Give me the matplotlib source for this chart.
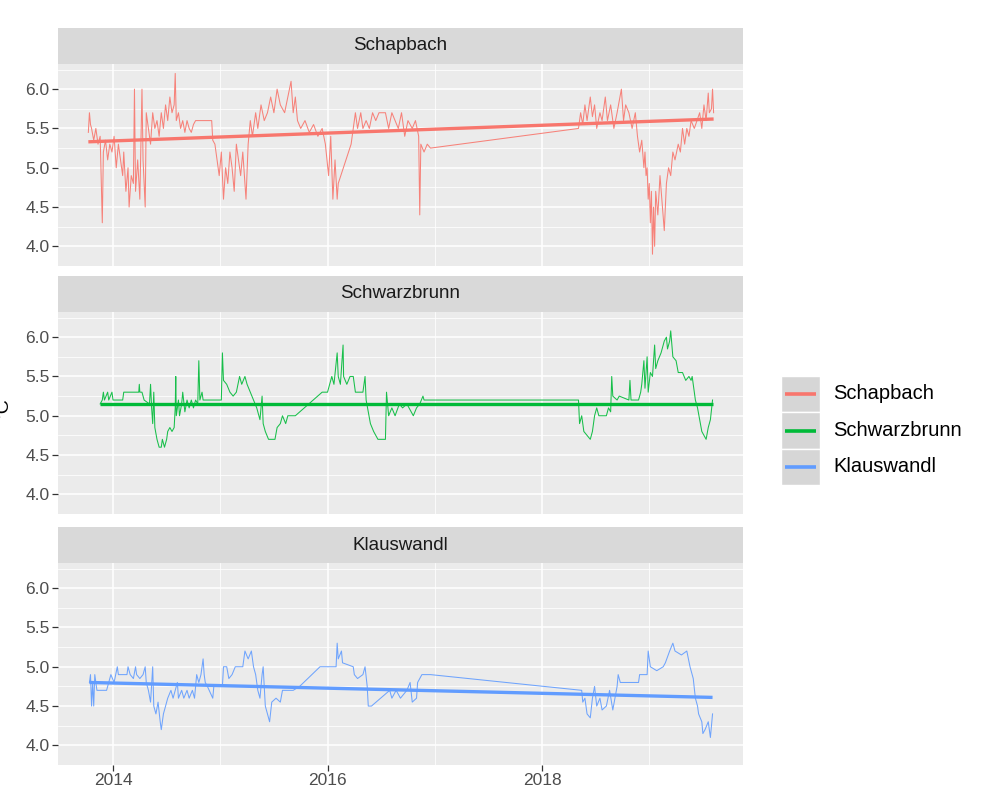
import numpy as np
import matplotlib.pyplot as plt
from matplotlib.patches import Rectangle
plt.ioff()

plt.rcParams['font.family'] = ['Liberation Sans', 'DejaVu Sans']

sites = ['Schapbach', 'Schwarzbrunn', 'Klauswandl']
colours = ['#F8766D', '#00BA38', '#619CFF']

# Schapbach water temperature (decimal year, deg C)
schap_year = [2013.77, 2013.78, 2013.79, 2013.80, 2013.82, 2013.84, 2013.86, 2013.88, 2013.90, 2013.91,
              2013.93, 2013.95, 2013.97, 2013.99, 2014.01, 2014.03, 2014.05, 2014.07, 2014.09, 2014.10,
              2014.12, 2014.14, 2014.15, 2014.17, 2014.19, 2014.20, 2014.21, 2014.23, 2014.25, 2014.26,
              2014.27, 2014.28, 2014.30, 2014.31, 2014.33, 2014.35, 2014.37, 2014.39, 2014.41, 2014.43,
              2014.45, 2014.47, 2014.49, 2014.51, 2014.53, 2014.55, 2014.57, 2014.58, 2014.59, 2014.61,
              2014.63, 2014.65, 2014.67, 2014.69, 2014.71, 2014.73, 2014.75, 2014.77, 2014.92, 2014.93,
              2014.95, 2014.97, 2014.99, 2015.01, 2015.03, 2015.05, 2015.07, 2015.09, 2015.11, 2015.13,
              2015.15, 2015.17, 2015.19, 2015.21, 2015.24, 2015.26, 2015.28, 2015.30, 2015.33, 2015.35,
              2015.38, 2015.41, 2015.44, 2015.47, 2015.50, 2015.53, 2015.56, 2015.60, 2015.63, 2015.66,
              2015.68, 2015.70, 2015.72, 2015.75, 2015.79, 2015.83, 2015.87, 2015.91, 2015.95, 2015.98,
              2016.01, 2016.03, 2016.05, 2016.07, 2016.09, 2016.10, 2016.22, 2016.24, 2016.26, 2016.28,
              2016.31, 2016.33, 2016.36, 2016.39, 2016.42, 2016.45, 2016.48, 2016.54, 2016.57, 2016.60,
              2016.63, 2016.66, 2016.69, 2016.72, 2016.75, 2016.79, 2016.82, 2016.85, 2016.86, 2016.87,
              2016.90, 2016.93, 2016.96, 2018.34, 2018.36, 2018.38, 2018.40, 2018.42, 2018.45, 2018.47,
              2018.49, 2018.51, 2018.54, 2018.56, 2018.59, 2018.61, 2018.64, 2018.67, 2018.70, 2018.74,
              2018.76, 2018.78, 2018.81, 2018.84, 2018.87, 2018.89, 2018.91, 2018.93, 2018.95, 2018.96,
              2018.97, 2018.98, 2018.99, 2019.00, 2019.01, 2019.02, 2019.03, 2019.04, 2019.05, 2019.06,
              2019.08, 2019.10, 2019.14, 2019.16, 2019.18, 2019.20, 2019.22, 2019.24, 2019.27, 2019.29,
              2019.31, 2019.33, 2019.35, 2019.37, 2019.39, 2019.42, 2019.47, 2019.49, 2019.51, 2019.53,
              2019.55, 2019.56, 2019.58, 2019.59, 2019.60]
schap_temp = [5.45, 5.70, 5.55, 5.50, 5.35, 5.50, 5.30, 5.40, 4.30, 5.20,
              5.35, 5.10, 5.30, 5.20, 5.40, 5.00, 5.30, 5.10, 4.90, 5.20,
              4.70, 5.00, 4.50, 4.90, 4.80, 6.00, 4.70, 5.10, 4.60, 5.30,
              6.00, 5.10, 4.50, 5.70, 5.50, 5.30, 5.70, 5.50, 5.60, 5.40,
              5.70, 5.50, 5.80, 5.60, 5.90, 5.70, 5.80, 6.20, 5.60, 5.70,
              5.50, 5.60, 5.45, 5.60, 5.50, 5.45, 5.55, 5.60, 5.60, 5.35,
              5.30, 5.10, 4.90, 5.20, 4.60, 5.00, 4.80, 5.20, 5.00, 4.70,
              5.30, 5.10, 4.90, 5.20, 4.60, 5.30, 5.60, 5.40, 5.70, 5.50,
              5.80, 5.60, 5.70, 5.90, 5.70, 6.00, 5.80, 5.70, 5.90, 6.10,
              5.70, 5.90, 5.60, 5.50, 5.60, 5.45, 5.55, 5.40, 5.50, 5.30,
              4.90, 5.40, 4.60, 5.10, 4.60, 4.80, 5.30, 5.50, 5.70, 5.50,
              5.70, 5.50, 5.60, 5.50, 5.70, 5.60, 5.70, 5.70, 5.50, 5.70,
              5.60, 5.50, 5.70, 5.40, 5.60, 5.50, 5.60, 5.40, 4.40, 5.30,
              5.20, 5.30, 5.25, 5.50, 5.70, 5.55, 5.80, 5.60, 5.90, 5.65,
              5.80, 5.50, 5.70, 5.60, 5.90, 5.60, 5.80, 5.50, 5.70, 6.00,
              5.60, 5.80, 5.70, 5.50, 5.70, 5.40, 5.20, 5.35, 5.00, 5.20,
              4.90, 5.00, 4.60, 4.80, 4.30, 4.70, 3.90, 4.50, 4.00, 4.70,
              4.40, 4.90, 4.20, 4.80, 5.00, 4.90, 5.20, 5.10, 5.30, 5.20,
              5.50, 5.30, 5.50, 5.40, 5.60, 5.50, 5.70, 5.50, 5.80, 5.60,
              5.95, 5.70, 5.75, 6.00, 5.70]

# Schwarzbrunn
schw_year = [2013.88, 2013.90, 2013.91, 2013.92, 2013.95, 2013.96, 2013.99, 2014.00, 2014.09, 2014.10,
             2014.24, 2014.245, 2014.25, 2014.27, 2014.29, 2014.34, 2014.35, 2014.36, 2014.37, 2014.38,
             2014.39, 2014.41, 2014.43, 2014.45, 2014.46, 2014.48, 2014.50, 2014.51, 2014.53, 2014.55,
             2014.57, 2014.58, 2014.585, 2014.59, 2014.61, 2014.62, 2014.64, 2014.65, 2014.67, 2014.69,
             2014.71, 2014.73, 2014.75, 2014.77, 2014.79, 2014.80, 2014.81, 2014.83, 2014.84, 2015.01,
             2015.02, 2015.03, 2015.06, 2015.09, 2015.12, 2015.15, 2015.18, 2015.20, 2015.23, 2015.25,
             2015.28, 2015.31, 2015.34, 2015.37, 2015.39, 2015.40, 2015.42, 2015.45, 2015.51, 2015.53,
             2015.56, 2015.58, 2015.61, 2015.63, 2015.70, 2015.95, 2016.00, 2016.04, 2016.06, 2016.09,
             2016.10, 2016.12, 2016.145, 2016.15, 2016.18, 2016.21, 2016.24, 2016.26, 2016.33, 2016.35,
             2016.36, 2016.40, 2016.43, 2016.47, 2016.54, 2016.55, 2016.57, 2016.60, 2016.63, 2016.67,
             2016.70, 2016.74, 2016.80, 2016.83, 2016.86, 2016.89, 2016.90, 2018.34, 2018.35, 2018.37,
             2018.39, 2018.42, 2018.45, 2018.47, 2018.49, 2018.51, 2018.53, 2018.60, 2018.62, 2018.64,
             2018.65, 2018.66, 2018.70, 2018.72, 2018.81, 2018.82, 2018.83, 2018.90, 2018.92, 2018.93,
             2018.95, 2018.96, 2018.98, 2018.99, 2019.01, 2019.03, 2019.05, 2019.06, 2019.08, 2019.11,
             2019.14, 2019.16, 2019.17, 2019.19, 2019.20, 2019.22, 2019.25, 2019.27, 2019.31, 2019.34,
             2019.37, 2019.39, 2019.40, 2019.43, 2019.45, 2019.47, 2019.49, 2019.51, 2019.53, 2019.55,
             2019.57, 2019.59]
schw_temp = [5.15, 5.20, 5.30, 5.20, 5.30, 5.20, 5.30, 5.20, 5.20, 5.30,
             5.30, 5.40, 5.30, 5.30, 5.20, 5.15, 5.40, 5.10, 4.90, 5.30,
             4.85, 4.70, 4.60, 4.60, 4.70, 4.60, 4.70, 4.80, 4.85, 4.80,
             4.85, 5.10, 5.50, 5.00, 5.20, 5.00, 5.15, 5.30, 5.05, 5.20,
             5.10, 5.20, 5.10, 5.20, 5.15, 5.70, 5.20, 5.30, 5.20, 5.20,
             5.80, 5.45, 5.40, 5.30, 5.25, 5.30, 5.50, 5.40, 5.50, 5.40,
             5.30, 5.20, 5.10, 4.95, 5.25, 4.90, 4.80, 4.70, 4.70, 4.85,
             4.90, 5.00, 4.90, 5.00, 5.00, 5.30, 5.30, 5.50, 5.40, 5.80,
             5.50, 5.40, 5.90, 5.50, 5.40, 5.50, 5.50, 5.30, 5.30, 5.50,
             5.20, 4.90, 4.80, 4.70, 4.70, 5.30, 5.00, 5.10, 5.00, 5.15,
             5.10, 5.15, 5.00, 5.10, 5.15, 5.25, 5.20, 5.20, 4.90, 5.00,
             4.80, 4.75, 4.70, 4.80, 5.00, 5.10, 5.00, 5.00, 5.10, 5.05,
             5.50, 5.25, 5.20, 5.25, 5.20, 5.45, 5.20, 5.20, 5.30, 5.40,
             5.70, 5.35, 5.75, 5.30, 5.55, 5.50, 5.90, 5.60, 5.70, 5.80,
             5.95, 6.00, 5.85, 5.95, 6.08, 5.75, 5.70, 5.55, 5.55, 5.45,
             5.50, 5.45, 5.50, 5.20, 5.10, 4.95, 4.80, 4.75, 4.70, 4.85,
             4.95, 5.20]

# Klauswandl
klau_year = [2013.78, 2013.79, 2013.80, 2013.81, 2013.82, 2013.83, 2013.85, 2013.94, 2013.96, 2013.98,
             2014.01, 2014.04, 2014.05, 2014.13, 2014.14, 2014.16, 2014.19, 2014.21, 2014.22, 2014.25,
             2014.28, 2014.30, 2014.31, 2014.33, 2014.35, 2014.37, 2014.38, 2014.40, 2014.42, 2014.44,
             2014.45, 2014.47, 2014.49, 2014.51, 2014.54, 2014.56, 2014.58, 2014.60, 2014.61, 2014.64,
             2014.66, 2014.69, 2014.71, 2014.74, 2014.76, 2014.78, 2014.80, 2014.82, 2014.84, 2014.85,
             2014.86, 2014.88, 2014.93, 2014.94, 2015.02, 2015.03, 2015.06, 2015.08, 2015.11, 2015.14,
             2015.21, 2015.23, 2015.26, 2015.29, 2015.31, 2015.33, 2015.35, 2015.37, 2015.39, 2015.40,
             2015.42, 2015.44, 2015.46, 2015.48, 2015.52, 2015.56, 2015.58, 2015.68, 2015.74, 2015.93,
             2016.08, 2016.09, 2016.10, 2016.13, 2016.14, 2016.24, 2016.25, 2016.28, 2016.33, 2016.35,
             2016.37, 2016.38, 2016.41, 2016.58, 2016.60, 2016.64, 2016.68, 2016.74, 2016.77, 2016.79,
             2016.83, 2016.84, 2016.88, 2016.96, 2018.37, 2018.38, 2018.40, 2018.42, 2018.45, 2018.47,
             2018.49, 2018.51, 2018.54, 2018.56, 2018.60, 2018.63, 2018.66, 2018.70, 2018.71, 2018.73,
             2018.90, 2018.91, 2018.98, 2018.99, 2019.01, 2019.07, 2019.13, 2019.15, 2019.19, 2019.22,
             2019.24, 2019.30, 2019.35, 2019.38, 2019.41, 2019.43, 2019.45, 2019.46, 2019.49, 2019.50,
             2019.52, 2019.55, 2019.57, 2019.59]
klau_temp = [4.80, 4.90, 4.50, 4.80, 4.50, 4.90, 4.70, 4.70, 4.80, 4.90,
             4.80, 5.00, 4.90, 4.90, 5.00, 4.90, 4.85, 5.00, 4.90, 4.85,
             4.90, 5.00, 4.80, 4.70, 4.55, 5.00, 4.50, 4.40, 4.55, 4.30,
             4.20, 4.40, 4.50, 4.60, 4.70, 4.60, 4.70, 4.80, 4.60, 4.70,
             4.60, 4.70, 4.60, 4.70, 4.60, 4.90, 4.80, 4.90, 5.10, 4.90,
             4.80, 4.75, 4.60, 4.75, 4.75, 5.00, 5.00, 4.85, 4.90, 5.00,
             5.00, 5.20, 5.10, 5.20, 5.00, 4.90, 4.70, 4.60, 4.90, 5.00,
             4.50, 4.40, 4.30, 4.55, 4.60, 4.55, 4.70, 4.70, 4.75, 5.00,
             5.00, 5.30, 5.10, 5.20, 5.05, 5.00, 4.90, 4.85, 4.90, 5.00,
             4.75, 4.50, 4.50, 4.70, 4.60, 4.70, 4.60, 4.70, 4.80, 4.55,
             4.60, 4.80, 4.90, 4.90, 4.70, 4.55, 4.60, 4.40, 4.35, 4.60,
             4.75, 4.50, 4.60, 4.45, 4.50, 4.70, 4.45, 4.75, 4.90, 4.80,
             4.80, 4.90, 4.90, 5.20, 5.00, 4.95, 5.00, 5.05, 5.20, 5.30,
             5.20, 5.15, 5.20, 5.00, 4.85, 4.60, 4.50, 4.40, 4.30, 4.15,
             4.20, 4.30, 4.10, 4.40]

# linear trend per site (start / end)
trend_year = [[2013.77, 2019.60], [2013.88, 2019.59], [2013.78, 2019.59]]
trend_temp = [[5.33, 5.62], [5.15, 5.15], [4.80, 4.61]]

years = [schap_year, schw_year, klau_year]
temps = [schap_temp, schw_temp, klau_temp]

fig = plt.figure(figsize=(10, 8), dpi=100)

left, width = 0.058, 0.685
panel_h, strip_h = 0.2525, 0.045
bottoms = [0.6675, 0.3575, 0.04375]

for i in range(3):
    ax = fig.add_axes([left, bottoms[i], width, panel_h])
    ax.set_facecolor('#EBEBEB')
    for s in ax.spines.values():
        s.set_visible(False)
    ax.plot(np.array(years[i]), np.array(temps[i]), color=colours[i], lw=0.75, alpha=0.9, zorder=3)
    ax.plot(trend_year[i], trend_temp[i], color=colours[i], lw=2.4, zorder=4, solid_capstyle='butt')
    ax.set_xlim(2013.487, 2019.874)
    ax.set_ylim(3.78, 6.32)
    ax.set_yticks([4.0, 4.5, 5.0, 5.5, 6.0])
    ax.set_yticks([3.75, 4.25, 4.75, 5.25, 5.75, 6.25], minor=True)
    ax.set_xticks([2014, 2016, 2018])
    ax.set_xticks([2015, 2017, 2019], minor=True)
    ax.grid(which='major', color='white', lw=1.1)
    ax.grid(which='minor', color='white', lw=0.55)
    ax.set_axisbelow(True)
    ax.tick_params(which='major', length=4, width=0.9, color='#333333',
                   labelsize=12.5, labelcolor='#4D4D4D', pad=2)
    ax.tick_params(which='minor', length=0)
    ax.set_yticklabels(['4.0', '4.5', '5.0', '5.5', '6.0'])
    if i < 2:
        ax.tick_params(axis='x', which='major', length=0, labelbottom=False)
    else:
        ax.set_xticklabels(['2014', '2016', '2018'])

    st = fig.add_axes([left, bottoms[i] + panel_h, width, strip_h])
    st.set_facecolor('#D9D9D9')
    st.set_xticks([])
    st.set_yticks([])
    for s in st.spines.values():
        s.set_visible(False)
    st.text(0.5, 0.5, sites[i], ha='center', va='center', fontsize=13.5, color='#1A1A1A',
            transform=st.transAxes)

# y label, mostly cut off on the left edge like the original
fig.text(0.012, 0.49, '°C', rotation=90, ha='right', va='center', fontsize=14, color='black')

# legend with grey keys
lg = fig.add_axes([0.781, 1 - 485 / 800, 0.039, 109 / 800])
lg.set_xlim(0, 1)
lg.set_ylim(3, 0)
lg.axis('off')
for k in range(3):
    lg.add_patch(Rectangle((0, k), 1, 1, facecolor='#D6D6D6', edgecolor='white', lw=1))
    lg.plot([0.1, 0.9], [k + 0.5, k + 0.5], color=colours[k], lw=2.6, solid_capstyle='butt')
    fig.text(0.833, 1 - (394 + 36 * k) / 800, sites[k], ha='left', va='center',
             fontsize=14.5, color='black')

fig.savefig('out.png', dpi=100)
